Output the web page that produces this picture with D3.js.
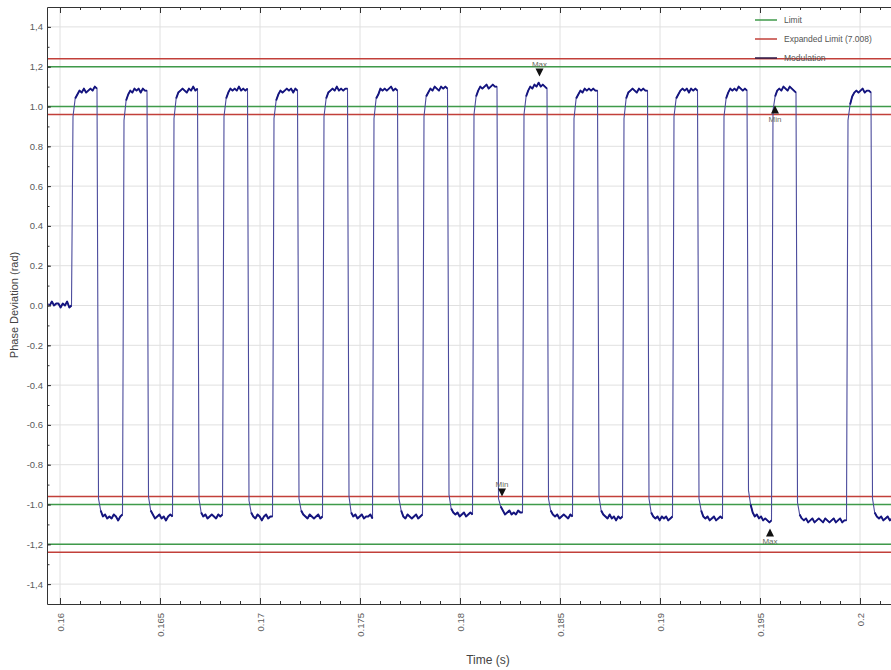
<!DOCTYPE html>
<html>
<head>
<meta charset="utf-8">
<script src="https://cdnjs.cloudflare.com/ajax/libs/d3/7.8.5/d3.min.js"></script>
<style>
  body { margin: 0; background: #fff; }
  svg { display: block; }
  text { font-family: "Liberation Sans", Arial, sans-serif; }
</style>
</head>
<body>
<svg id="chart" width="891" height="670"></svg>
<script>
// times (s) where the modulation switches level, first and last are the trace ends
var edgeTimes = [0.159375, 0.160575, 0.16185, 0.163125, 0.16435, 0.165625, 0.166875, 0.168125,
    0.169375, 0.170625, 0.171875, 0.173125, 0.174375, 0.175625, 0.176875, 0.178125, 0.179375,
    0.180625, 0.18185, 0.183125, 0.18435, 0.185625, 0.186875, 0.188125, 0.189375, 0.190625,
    0.191875, 0.193125, 0.19435, 0.195575, 0.1968, 0.199325, 0.20055, 0.2016];

// phase deviation (rad) read along each plateau, one list per segment
var plateaus = [
    [0.01, 0.00, 0.02, 0.00, 0.01, 0.01, -0.01, 0.01, 0.00, 0.02, -0.01, 0.00],
    [0.95, 1.04, 1.06, 1.08, 1.07, 1.09, 1.07, 1.08, 1.09, 1.08, 1.10, 1.09],
    [-0.97, -1.03, -1.06, -1.05, -1.07, -1.06, -1.07, -1.05, -1.06, -1.08, -1.06, -1.05],
    [0.93, 1.03, 1.06, 1.08, 1.07, 1.09, 1.08, 1.09, 1.07, 1.09, 1.08, 1.08],
    [-0.96, -1.03, -1.05, -1.07, -1.06, -1.05, -1.07, -1.06, -1.08, -1.06, -1.05, -1.06],
    [0.94, 1.04, 1.07, 1.08, 1.09, 1.08, 1.07, 1.09, 1.08, 1.10, 1.08, 1.09],
    [-0.97, -1.04, -1.06, -1.05, -1.07, -1.06, -1.05, -1.06, -1.07, -1.05, -1.06, -1.05],
    [0.95, 1.04, 1.07, 1.09, 1.08, 1.09, 1.08, 1.10, 1.08, 1.09, 1.08, 1.09],
    [-0.98, -1.04, -1.06, -1.07, -1.05, -1.06, -1.08, -1.06, -1.05, -1.07, -1.06, -1.06],
    [0.94, 1.03, 1.06, 1.08, 1.07, 1.08, 1.09, 1.08, 1.09, 1.07, 1.09, 1.08],
    [-0.97, -1.03, -1.05, -1.06, -1.07, -1.05, -1.06, -1.07, -1.06, -1.05, -1.07, -1.06],
    [0.95, 1.04, 1.07, 1.08, 1.09, 1.08, 1.10, 1.08, 1.09, 1.08, 1.09, 1.09],
    [-0.96, -1.04, -1.06, -1.05, -1.07, -1.06, -1.05, -1.07, -1.06, -1.06, -1.05, -1.07],
    [0.94, 1.04, 1.06, 1.09, 1.08, 1.09, 1.08, 1.09, 1.10, 1.08, 1.09, 1.08],
    [-0.97, -1.03, -1.06, -1.07, -1.05, -1.06, -1.07, -1.06, -1.05, -1.07, -1.06, -1.05],
    [0.95, 1.05, 1.07, 1.09, 1.08, 1.10, 1.09, 1.08, 1.10, 1.09, 1.10, 1.09],
    [-0.95, -1.02, -1.04, -1.05, -1.04, -1.06, -1.05, -1.04, -1.06, -1.05, -1.04, -1.05],
    [0.96, 1.05, 1.08, 1.10, 1.09, 1.10, 1.11, 1.09, 1.10, 1.11, 1.10, 1.10],
    [-0.97, -1.01, -1.03, -1.05, -1.04, -1.03, -1.05, -1.04, -1.05, -1.03, -1.04, -1.04],
    [0.96, 1.05, 1.08, 1.10, 1.09, 1.11, 1.10, 1.12, 1.10, 1.11, 1.10, 1.09],
    [-0.97, -1.03, -1.05, -1.06, -1.05, -1.07, -1.06, -1.05, -1.06, -1.07, -1.05, -1.06],
    [0.94, 1.04, 1.06, 1.08, 1.07, 1.09, 1.08, 1.09, 1.08, 1.09, 1.08, 1.08],
    [-0.96, -1.03, -1.05, -1.06, -1.07, -1.05, -1.07, -1.06, -1.08, -1.06, -1.07, -1.06],
    [0.94, 1.04, 1.07, 1.08, 1.09, 1.08, 1.07, 1.09, 1.08, 1.09, 1.08, 1.08],
    [-0.97, -1.04, -1.06, -1.07, -1.06, -1.08, -1.06, -1.07, -1.06, -1.08, -1.07, -1.06],
    [0.95, 1.04, 1.06, 1.08, 1.09, 1.08, 1.09, 1.07, 1.09, 1.08, 1.09, 1.08],
    [-0.97, -1.03, -1.06, -1.07, -1.06, -1.08, -1.07, -1.06, -1.08, -1.07, -1.06, -1.07],
    [0.95, 1.04, 1.07, 1.09, 1.08, 1.09, 1.08, 1.10, 1.09, 1.08, 1.09, 1.08],
    [-0.93, -1.00, -1.04, -1.06, -1.05, -1.07, -1.06, -1.08, -1.07, -1.08, -1.09, -1.08],
    [0.98, 1.05, 1.08, 1.09, 1.08, 1.10, 1.09, 1.08, 1.10, 1.09, 1.08, 1.07],
    [-0.99, -1.05, -1.07, -1.08, -1.07, -1.09, -1.08, -1.07, -1.09, -1.08, -1.07, -1.08,
     -1.09, -1.07, -1.08, -1.09, -1.08, -1.07, -1.09, -1.08, -1.07, -1.09, -1.08, -1.08],
    [0.93, 1.01, 1.05, 1.07, 1.08, 1.07, 1.08, 1.09, 1.07, 1.08, 1.08, 1.07],
    [-0.97, -1.04, -1.06, -1.07, -1.06, -1.08, -1.07, -1.06, -1.08, -1.07]
];

var limitLevels = [1.2, 1.0, -1.0, -1.2];
var expandedLevels = [1.24, 0.96, -0.96, -1.24];

var yTicks = [-1.4, -1.2, -1.0, -0.8, -0.6, -0.4, -0.2, 0.0, 0.2, 0.4, 0.6, 0.8, 1.0, 1.2, 1.4];
var yTickLabels = ["-1,4", "-1,2", "-1.0", "-0.8", "-0.6", "-0.4", "-0.2", "0.0",
    "0.2", "0.4", "0.6", "0.8", "1.0", "1,2", "1,4"];
var xTicks = [0.16, 0.165, 0.17, 0.175, 0.18, 0.185, 0.19, 0.195, 0.2];
var xTickLabels = ["0.16", "0.165", "0.17", "0.175", "0.18", "0.185", "0.19", "0.195", "0.2"];

var legendNames = ["Limit", "Expanded Limit (7.008)", "Modulation"];
var legendColors = ["#3f9a4a", "#c2403a", "#2a1848"];

var markerNames = ["Max", "Min", "Min", "Max"];
var markerTimes = [0.183975, 0.1821, 0.19575, 0.1955];
var markerValues = [1.12, -0.99, 1.035, -1.09];
var markerDirs = ["down", "down", "up", "up"];

var svg = d3.select("#chart");
var plotLeft = 47, plotTop = 7, plotBottom = 604, plotRight = 891;

var x = d3.scaleLinear().domain([0.15935, 0.20155]).range([plotLeft, plotRight]);
var y = d3.scaleLinear().domain([-1.5, 1.5]).range([plotBottom, plotTop]);

svg.append("defs").append("clipPath").attr("id", "plot-clip")
    .append("rect").attr("x", plotLeft).attr("y", plotTop)
    .attr("width", plotRight - plotLeft).attr("height", plotBottom - plotTop);

// grid
var grid = svg.append("g").attr("class", "grid");
grid.selectAll(".gx").data(xTicks).enter().append("line")
    .attr("x1", function(d) { return x(d); }).attr("x2", function(d) { return x(d); })
    .attr("y1", plotTop).attr("y2", plotBottom)
    .attr("stroke", "#e0e0e0").attr("stroke-width", 1);
grid.selectAll(".gy").data(yTicks).enter().append("line")
    .attr("x1", plotLeft).attr("x2", plotRight)
    .attr("y1", function(d) { return y(d); }).attr("y2", function(d) { return y(d); })
    .attr("stroke", "#e0e0e0").attr("stroke-width", 1);

var plot = svg.append("g").attr("clip-path", "url(#plot-clip)");

// limit lines
plot.selectAll(".exp").data(expandedLevels).enter().append("line")
    .attr("x1", plotLeft).attr("x2", plotRight)
    .attr("y1", function(d) { return y(d); }).attr("y2", function(d) { return y(d); })
    .attr("stroke", legendColors[1]).attr("stroke-width", 1.5);
plot.selectAll(".lim").data(limitLevels).enter().append("line")
    .attr("x1", plotLeft).attr("x2", plotRight)
    .attr("y1", function(d) { return y(d); }).attr("y2", function(d) { return y(d); })
    .attr("stroke", legendColors[0]).attr("stroke-width", 1.5);

// trace: thin full line for the edges, heavier stroke over the noisy plateaus
var edgeDelay = 0.000075;
var segs = plateaus.map(function(vals, i) {
    var t0 = edgeTimes[i] + (i ? edgeDelay : 0), t1 = edgeTimes[i + 1];
    return vals.map(function(v, k) {
        return [t0 + (t1 - t0) * k / (vals.length - 1), v];
    });
});
var pts = [].concat.apply([], segs);
var line = d3.line().x(function(d) { return x(d[0]); }).y(function(d) { return y(d[1]); });
plot.append("path").datum(pts)
    .attr("d", line)
    .attr("fill", "none")
    .attr("stroke", "#4b4b9c")
    .attr("stroke-width", 1.1)
    .attr("stroke-linejoin", "round");
plot.selectAll(".plateau").data(segs).enter().append("path")
    .attr("d", function(d) { return line(d.slice(1)); })
    .attr("fill", "none")
    .attr("stroke", "#15157f")
    .attr("stroke-width", 1.9)
    .attr("stroke-linejoin", "round");

// axes
function styleAxis(g) {
    g.select(".domain").attr("stroke", "#333");
    g.selectAll(".tick line").attr("stroke", "#333");
    g.selectAll("text").attr("fill", "#5a5a5a").style("font-size", "9.5px");
}

var yMinor = d3.range(-14, 15).map(function(d) { return d / 10; });
svg.append("g").attr("transform", "translate(" + plotLeft + ",0)")
    .call(d3.axisLeft(y).tickValues(yMinor).tickSize(-2.5).tickFormat(""))
    .call(function(g) { g.select(".domain").remove(); g.selectAll("line").attr("stroke", "#333"); });
svg.append("g").attr("transform", "translate(" + plotLeft + ",0)")
    .call(d3.axisLeft(y).tickValues(yTicks).tickSizeInner(-4).tickSizeOuter(0).tickPadding(4)
        .tickFormat(function(d, i) { return yTickLabels[i]; }))
    .call(styleAxis);

var xMinor = d3.range(160, 202).map(function(d) { return d / 1000; });
svg.append("g").attr("transform", "translate(0," + plotBottom + ")")
    .call(d3.axisBottom(x).tickValues(xMinor).tickSize(-3).tickFormat(""))
    .call(function(g) { g.select(".domain").remove(); g.selectAll("line").attr("stroke", "#333"); });
svg.append("g").attr("transform", "translate(0," + plotTop + ")")
    .call(d3.axisTop(x).tickValues(xMinor).tickSize(-3).tickFormat(""))
    .call(function(g) { g.select(".domain").remove(); g.selectAll("line").attr("stroke", "#333"); });
svg.append("g").attr("transform", "translate(0," + plotTop + ")")
    .call(d3.axisTop(x).tickValues(xTicks).tickSizeInner(-6).tickSizeOuter(0).tickFormat(""))
    .call(styleAxis);
var xAxis = svg.append("g").attr("transform", "translate(0," + plotBottom + ")")
    .call(d3.axisBottom(x).tickValues(xTicks).tickSizeInner(-6).tickSizeOuter(0)
        .tickFormat(function(d, i) { return xTickLabels[i]; }))
    .call(styleAxis);
xAxis.selectAll(".tick text")
    .attr("transform", "rotate(-90)")
    .attr("x", -9).attr("y", 0).attr("dy", "0.35em")
    .style("text-anchor", "end");

// axis titles
svg.append("text")
    .attr("x", 488).attr("y", 664)
    .attr("text-anchor", "middle")
    .attr("fill", "#444").style("font-size", "12px")
    .text("Time (s)");
svg.append("text")
    .attr("transform", "translate(18,305) rotate(-90)")
    .attr("text-anchor", "middle")
    .attr("fill", "#444").style("font-size", "11px")
    .text("Phase Deviation (rad)");

// markers
markerNames.forEach(function(name, i) {
    var mx = x(markerTimes[i]), my = y(markerValues[i]);
    var g = svg.append("g");
    var down = markerDirs[i] == "down";
    var tip = down ? my - 6 : my + 6;
    var base = down ? tip - 8 : tip + 8;
    g.append("path")
        .attr("d", "M" + (mx - 4) + "," + base + "L" + (mx + 4) + "," + base + "L" + mx + "," + tip + "Z")
        .attr("fill", "#111");
    g.append("text").attr("x", mx).attr("y", down ? base - 2 : base + 8)
        .attr("text-anchor", "middle")
        .attr("fill", "#6b6b5e").style("font-size", "8px").text(name);
});

// legend
var legend = svg.append("g").attr("transform", "translate(755,20)");
legendNames.forEach(function(name, i) {
    legend.append("line")
        .attr("x1", 0).attr("x2", 22).attr("y1", i * 19).attr("y2", i * 19)
        .attr("stroke", legendColors[i]).attr("stroke-width", 1.5);
    legend.append("text")
        .attr("x", 29).attr("y", i * 19).attr("dy", "0.35em")
        .attr("fill", "#555").style("font-size", "8.5px")
        .text(name);
});
</script>
</body>
</html>
